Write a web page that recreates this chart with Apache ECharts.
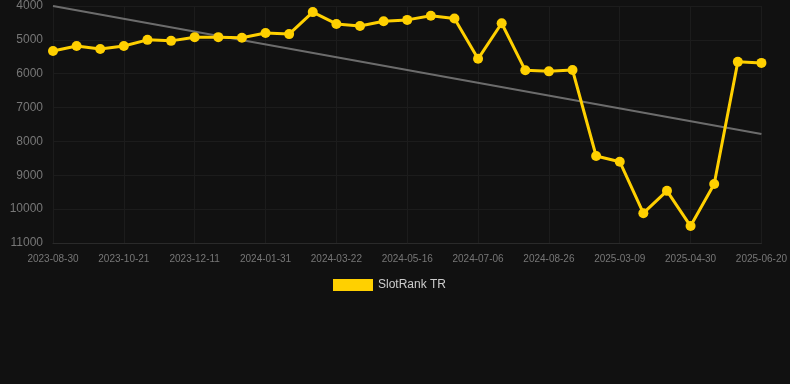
<!DOCTYPE html>
<html><head><meta charset="utf-8">
<script src="https://cdn.jsdelivr.net/npm/echarts@6/dist/echarts.min.js"></script>
<style>html,body{margin:0;padding:0;background:#111111;}#c{width:790px;height:384px;}</style>
</head><body><div id="c"></div>
<script>
const categories = ["2023-08-30","2023-09-16","2023-10-04","2023-10-21","2023-11-07","2023-11-24","2023-12-11","2023-12-28","2024-01-14","2024-01-31","2024-02-17","2024-03-05","2024-03-22","2024-04-09","2024-04-28","2024-05-16","2024-06-02","2024-06-19","2024-07-06","2024-07-23","2024-08-09","2024-08-26","2024-10-15","2025-01-20","2025-03-09","2025-03-26","2025-04-13","2025-04-30","2025-05-17","2025-06-03","2025-06-20"];
const rankTR = [5330,5180,5270,5180,5000,5030,4920,4920,4940,4800,4830,4180,4530,4590,4450,4410,4290,4370,5560,4510,5900,5930,5890,8430,8600,10120,9460,10500,9260,5650,5680];
const trendStart = 4000;
const trendEnd = 7780;
const yTicks = [4000,5000,6000,7000,8000,9000,10000,11000];

const chart = echarts.init(document.getElementById('c'));
chart.setOption({
  backgroundColor: '#111111',
  animation: false,
  grid: {left: 53, right: 27, top: 6, bottom: 141, containLabel: false},
  legend: {
    bottom: 88, left: 328,
    itemWidth: 40, itemHeight: 12, itemGap: 6,
    data: [{name: 'SlotRank TR', icon: 'rect'}],
    textStyle: {color: '#cccccc', fontSize: 12, fontFamily: 'Arial, Liberation Sans, sans-serif'}
  },
  xAxis: {
    type: 'category', data: categories, boundaryGap: false,
    axisLine: {show: true, lineStyle: {color: '#2a2a2a'}},
    axisTick: {show: false},
    axisLabel: {interval: 2, color: '#777777', fontSize: 10, margin: 11, fontFamily: 'Arial, Liberation Sans, sans-serif'},
    splitLine: {show: true, interval: 2, lineStyle: {color: '#1c1c1c'}}
  },
  yAxis: {
    type: 'value', inverse: true, min: yTicks[0], max: yTicks[yTicks.length-1], interval: 1000,
    axisLine: {show: false}, axisTick: {show: false},
    axisLabel: {color: '#777777', fontSize: 12, margin: 10, formatter: v => String(v), fontFamily: 'Arial, Liberation Sans, sans-serif'},
    splitLine: {show: true, lineStyle: {color: '#1c1c1c'}}
  },
  series: [{
    name: 'SlotRank TR', type: 'line', data: rankTR,
    color: '#FFD000',
    lineStyle: {width: 3, color: '#FFD000'},
    symbol: 'circle', symbolSize: 10,
    itemStyle: {color: '#FFD000'},
    z: 3,
    markLine: {
      silent: true, symbol: 'none', label: {show: false},
      lineStyle: {color: '#777777', width: 2, type: 'solid', opacity: 0.9},
      data: [[{coord: [categories[0], trendStart]}, {coord: [categories[categories.length-1], trendEnd]}]],
      z: 1
    }
  }]
});
</script></body></html>
